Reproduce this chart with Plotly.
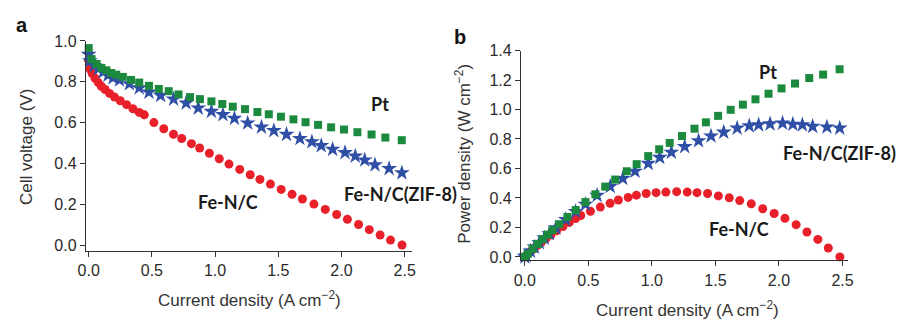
import plotly.graph_objects as go

# ---- data ----
pt_current = [0.0, 0.023, 0.062, 0.101, 0.14, 0.179, 0.218, 0.27, 0.335, 0.40, 0.477, 0.555,
              0.633, 0.711, 0.802, 0.88, 0.971, 1.057, 1.14, 1.237, 1.335, 1.425, 1.521, 1.62,
              1.716, 1.815, 1.918, 2.02, 2.126, 2.238, 2.347, 2.477]
pt_voltage = [0.965, 0.911, 0.887, 0.868, 0.856, 0.843, 0.835, 0.824, 0.809, 0.796, 0.780, 0.765,
              0.754, 0.738, 0.725, 0.715, 0.704, 0.691, 0.678, 0.666, 0.652, 0.641, 0.629, 0.616,
              0.602, 0.589, 0.577, 0.566, 0.553, 0.542, 0.527, 0.514]
pt_power = [0.0, 0.021, 0.055, 0.088, 0.12, 0.151, 0.182, 0.222, 0.271, 0.318, 0.372, 0.425,
            0.477, 0.525, 0.581, 0.629, 0.684, 0.73, 0.773, 0.82, 0.87, 0.913, 0.957, 0.998,
            1.033, 1.069, 1.107, 1.143, 1.176, 1.213, 1.237, 1.273]

zif_current = [0.0, 0.01, 0.044, 0.076, 0.114, 0.153, 0.192, 0.244, 0.322, 0.40, 0.477, 0.569,
               0.672, 0.771, 0.867, 0.971, 1.062, 1.153, 1.258, 1.367, 1.465, 1.565, 1.671,
               1.766, 1.84, 1.93, 2.028, 2.109, 2.184, 2.265, 2.377, 2.478]
zif_voltage = [0.934, 0.903, 0.879, 0.864, 0.848, 0.832, 0.819, 0.809, 0.790, 0.770, 0.749, 0.733,
               0.715, 0.696, 0.671, 0.655, 0.639, 0.621, 0.598, 0.578, 0.561, 0.542, 0.522,
               0.506, 0.487, 0.469, 0.453, 0.436, 0.417, 0.393, 0.375, 0.354]
zif_power = [0.0, 0.009, 0.039, 0.066, 0.097, 0.127, 0.157, 0.197, 0.254, 0.308, 0.357, 0.417,
             0.478, 0.532, 0.581, 0.634, 0.675, 0.71, 0.748, 0.788, 0.82, 0.846, 0.874,
             0.889, 0.896, 0.902, 0.907, 0.900, 0.896, 0.885, 0.881, 0.874]

fenc_current = [0.0, 0.005, 0.012, 0.028, 0.05, 0.076, 0.10, 0.13, 0.165, 0.205, 0.25, 0.30,
                0.35, 0.40, 0.44, 0.516, 0.594, 0.671, 0.736, 0.813, 0.878, 0.955, 1.033,
                1.11, 1.195, 1.278, 1.355, 1.438, 1.523, 1.609, 1.691, 1.782, 1.872, 1.962,
                2.047, 2.135, 2.22, 2.306, 2.388, 2.479]
fenc_voltage = [0.905, 0.885, 0.862, 0.84, 0.817, 0.796, 0.778, 0.762, 0.743, 0.725, 0.707, 0.688,
                0.668, 0.65, 0.638, 0.60, 0.57, 0.543, 0.522, 0.497, 0.476, 0.45, 0.423,
                0.397, 0.371, 0.345, 0.322, 0.299, 0.273, 0.249, 0.226, 0.201, 0.175, 0.150,
                0.127, 0.101, 0.076, 0.050, 0.025, 0.001]
fenc_power = [0.0, 0.004, 0.010, 0.024, 0.041, 0.06, 0.078, 0.099, 0.123, 0.149, 0.177, 0.206,
              0.234, 0.26, 0.281, 0.31, 0.338, 0.364, 0.386, 0.404, 0.419, 0.43, 0.436,
              0.44, 0.443, 0.44, 0.436, 0.43, 0.414, 0.401, 0.382, 0.36, 0.327, 0.295,
              0.262, 0.219, 0.169, 0.119, 0.061, 0.0]

x_ticks = [0.0, 0.5, 1.0, 1.5, 2.0, 2.5]
va_ticks = [0.0, 0.2, 0.4, 0.6, 0.8, 1.0]
pb_ticks = [0.0, 0.2, 0.4, 0.6, 0.8, 1.0, 1.2, 1.4]

GREEN = "#1b8a3e"
BLUE = "#2f4fa6"
RED = "#e8202a"
AXC = "#333333"

fig = go.Figure()

def add_series(x, y, xa, ya, color, symbol, size):
    fig.add_trace(go.Scatter(x=x, y=y, mode="markers", xaxis=xa, yaxis=ya,
                             marker=dict(color=color, symbol=symbol, size=size,
                                         line=dict(width=0)),
                             cliponaxis=False, showlegend=False, hoverinfo="skip"))

# panel a
add_series(fenc_current, fenc_voltage, "x", "y", RED, "circle", 9)
add_series(zif_current, zif_voltage, "x", "y", BLUE, "star", 12)
add_series(pt_current, pt_voltage, "x", "y", GREEN, "square", 8)
# panel b
add_series(fenc_current, fenc_power, "x2", "y2", RED, "circle", 9)
add_series(zif_current, zif_power, "x2", "y2", BLUE, "star", 12)
add_series(pt_current, pt_power, "x2", "y2", GREEN, "square", 8)

W, H = 900, 325
def px(v): return v / W
def py(v): return 1 - v / H

axis_common = dict(showline=True, linecolor=AXC, linewidth=1, ticks="outside",
                   ticklen=5, tickcolor=AXC, tickwidth=1, showgrid=False, zeroline=False,
                   tickfont=dict(family="Liberation Sans, Arial", size=16, color="#2a2a2a"),
                   mirror=False)

fig.update_layout(
    width=W, height=H, margin=dict(l=0, r=0, t=0, b=0),
    paper_bgcolor="white", plot_bgcolor="white",
    xaxis=dict(domain=[px(79), px(410)], range=[-0.023, 2.555], tickvals=x_ticks,
               ticktext=[f"{v:.1f}" for v in x_ticks], anchor="y", **axis_common),
    yaxis=dict(domain=[py(253), py(34.3)], range=[-0.028, 1.0], tickvals=va_ticks,
               ticktext=[f"{v:.1f}" for v in va_ticks], anchor="x", **axis_common),
    xaxis2=dict(domain=[px(521), px(853)], range=[-0.031, 2.541], tickvals=x_ticks,
                ticktext=[f"{v:.1f}" for v in x_ticks], anchor="y2", **axis_common),
    yaxis2=dict(domain=[py(263), py(44.3)], range=[-0.024, 1.4], tickvals=pb_ticks,
                ticktext=[f"{v:.1f}" for v in pb_ticks], anchor="x2", **axis_common),
)

def note(text, x, y, size=13, bold=False, family="Liberation Sans, Arial", angle=0,
         color="#222", xanchor="center"):
    fig.add_annotation(text=f"<b>{text}</b>" if bold else text, x=px(x), y=py(y),
                       xref="paper", yref="paper", showarrow=False, textangle=angle,
                       xanchor=xanchor, yanchor="middle",
                       font=dict(family=family, size=size, color=color))

LBL = "Lato, Open Sans, sans-serif"
# panel letters
note("a", 14, 18, size=20, bold=True, color="#111")
note("b", 459, 30, size=20, bold=True, color="#111")
# axis titles
note("Cell voltage (V)", 18, 145, size=17, angle=-90, color="#333")
note("Current density (A cm<sup>−2</sup>)", 245, 303, size=17, color="#333")
note("Power density (W cm<sup>−2</sup>)", 462, 152, size=17, angle=-90, color="#333")
note("Current density (A cm<sup>−2</sup>)", 690, 314, size=17, color="#333")
# series labels
note("Pt", 378, 100, size=18, bold=True, family=LBL, color="#1a1a1a")
note("Fe-N/C(ZIF-8)", 339, 194, size=18, bold=True, family=LBL, color="#1a1a1a", xanchor="left")
note("Fe-N/C", 223, 202, size=18, bold=True, family=LBL, color="#1a1a1a")
note("Pt", 772, 67, size=18, bold=True, family=LBL, color="#1a1a1a")
note("Fe-N/C(ZIF-8)", 785, 151, size=18, bold=True, family=LBL, color="#1a1a1a", xanchor="left")
note("Fe-N/C", 743, 230, size=18, bold=True, family=LBL, color="#1a1a1a")

fig.write_html("out.html", config={"displayModeBar": False},
               post_script="document.body.style.margin='0';")
